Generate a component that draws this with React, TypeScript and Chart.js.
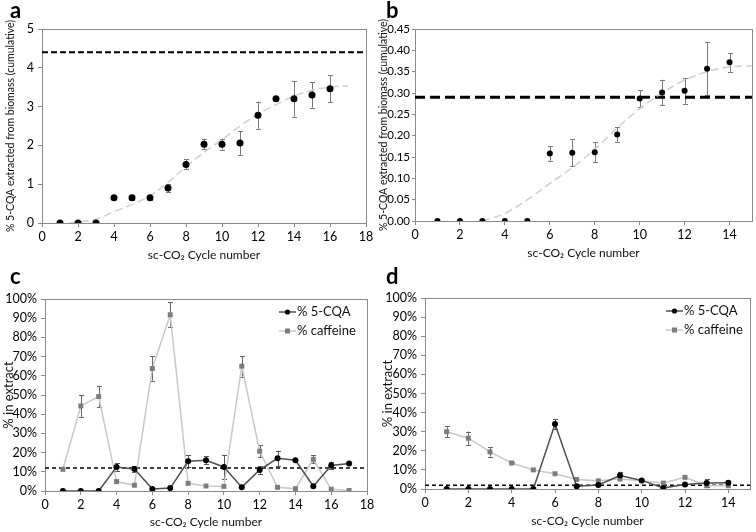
import React, { useEffect, useRef } from 'react';
import { Chart, registerables } from 'chart.js';

Chart.register(...registerables);

const FONT = 'Lato, "Open Sans", "DejaVu Sans", sans-serif';

// ---------------- data ----------------
const panelLabels = ['a', 'b', 'c', 'd'];
const xAxisTitle = 'sc-CO\u2082 Cycle number';
const yTitleCumulative = '% 5-CQA extracted from biomass (cumulative)';
const yTitleExtract = '% in extract';
const seriesNames = ['% 5-CQA', '% caffeine'];

// Panel a
const cyclesA = [1, 2, 3, 4, 5, 6, 7, 8, 9, 10, 11, 12, 13, 14, 15, 16];
const cqaA = [0, 0, 0, 0.65, 0.65, 0.65, 0.9, 1.51, 2.03, 2.03, 2.06, 2.78, 3.2, 3.2, 3.3, 3.46];
const errA = [0, 0, 0, 0, 0.07, 0.05, 0.11, 0.13, 0.13, 0.14, 0.3, 0.35, 0, 0.46, 0.33, 0.35];
const fitAx = [1.5, 2, 3, 4, 5, 6, 7, 8, 9, 10, 11, 12, 13, 14, 15, 16, 17];
const fitAy = [0, 0.02, 0.1, 0.29, 0.48, 0.7, 1.05, 1.45, 1.82, 2.15, 2.5, 2.8, 3.05, 3.27, 3.42, 3.5, 3.54];
const limitA = 4.4;

// Panel b
const cyclesB = [1, 2, 3, 4, 5, 6, 7, 8, 9, 10, 11, 12, 13, 14];
const cqaB = [0, 0, 0, 0, 0, 0.158, 0.16, 0.161, 0.203, 0.287, 0.301, 0.305, 0.357, 0.372];
const errB = [0, 0, 0, 0, 0, 0.017, 0.032, 0.023, 0.017, 0.02, 0.03, 0.03, 0.062, 0.022];
const fitBx = [3, 4, 5, 6, 7, 8, 9, 10, 11, 12, 13, 14, 15];
const fitBy = [0, 0.018, 0.05, 0.088, 0.125, 0.168, 0.218, 0.263, 0.3, 0.33, 0.35, 0.361, 0.364];
const limitB = 0.29;

// Panel c
const cyclesC = [1, 2, 3, 4, 5, 6, 7, 8, 9, 10, 11, 12, 13, 14, 15, 16, 17];
const cqaC = [0, 0, 0, 12.5, 11.5, 1, 1.5, 15.5, 16, 12.5, 2, 11, 17, 16, 2.5, 13.3, 14.3];
const cqaErrC = [0, 0, 0, 2, 1.5, 0, 0, 3, 2, 6.3, 0, 2, 4, 0, 0, 2, 0];
const cafC = [11.3, 44.3, 49.2, 4.9, 3, 63.8, 91.8, 4, 2.6, 2.4, 65, 20.7, 1.9, 1.2, 16.5, 0.9, 0.3];
const cafErrC = [0, 5.7, 5.6, 0, 0, 6.3, 6.6, 0, 0, 0, 5.4, 3.2, 0, 0, 2, 0, 0];
const limitC = 12;

// Panel d
const cyclesD = [1, 2, 3, 4, 5, 6, 7, 8, 9, 10, 11, 12, 13, 14];
const cqaD = [0, 0, 0, 0, 0, 34, 1.4, 2.1, 7.1, 4.5, 0.5, 2.4, 3.1, 3.3];
const cqaErrD = [0, 0, 0, 0, 0, 2.7, 0, 0, 2, 0, 0, 0, 2, 0.8];
const cafD = [30, 26.6, 19.4, 13.6, 10, 8, 5, 4.3, 5.2, 4.3, 3.1, 6.1, 1.7, 1.7];
const cafErrD = [3, 3.5, 2.4, 0.5, 0, 0, 0, 0, 0, 0, 0, 0, 0, 0];
const limitD = 2;

// --------------- helpers ---------------
const pts = (xs: number[], ys: number[]) => xs.map((x, i) => ({ x, y: ys[i] }));

const framePlugin = {
  id: 'plotFrame',
  beforeDatasetsDraw(chart: any) {
    const { ctx, chartArea: a } = chart;
    ctx.save();
    ctx.strokeStyle = '#8a8a8a';
    ctx.lineWidth = 1;
    ctx.strokeRect(Math.round(a.left) + 0.5, Math.round(a.top) + 0.5, Math.round(a.right - a.left), Math.round(a.bottom - a.top));
    ctx.restore();
  },
};

// shifts the panel letter (chart title) right, away from the canvas edge
const titleShiftPlugin = {
  id: 'titleShift',
  afterLayout(chart: any, _args: any, opts: any) {
    const t = chart.titleBlock;
    if (t && opts && opts.dx) {
      t.left += opts.dx;
      t.right += opts.dx;
    }
  },
};

const errorBarPlugin = {
  id: 'errorBars',
  beforeDatasetsDraw(chart: any) {
    const ctx = chart.ctx;
    const ys = chart.scales.y;
    chart.data.datasets.forEach((ds: any, i: number) => {
      const errs = ds.errorBars;
      if (!errs) return;
      const meta = chart.getDatasetMeta(i);
      ctx.save();
      ctx.strokeStyle = ds.errorColor || '#777';
      ctx.lineWidth = 1;
      meta.data.forEach((pt: any, j: number) => {
        const e = errs[j];
        if (!e) return;
        const v = ds.data[j].y;
        const y1 = ys.getPixelForValue(v + e);
        const y2 = ys.getPixelForValue(v - e);
        const x = Math.round(pt.x) + 0.5;
        ctx.beginPath();
        ctx.moveTo(x, y1);
        ctx.lineTo(x, y2);
        ctx.moveTo(x - 2.5, Math.round(y1) + 0.5);
        ctx.lineTo(x + 2.5, Math.round(y1) + 0.5);
        ctx.moveTo(x - 2.5, Math.round(y2) + 0.5);
        ctx.lineTo(x + 2.5, Math.round(y2) + 0.5);
        ctx.stroke();
      });
      ctx.restore();
    });
  },
};

const insetLegendPlugin = {
  id: 'insetLegend',
  afterDraw(chart: any, _args: any, opts: any) {
    if (!opts || !opts.show) return;
    const ctx = chart.ctx;
    ctx.save();
    [0, 1].forEach((i) => {
      const ds: any = chart.data.datasets[i];
      const y = opts.y + i * opts.gap;
      const x0 = opts.x;
      const x1 = opts.x + opts.lineLen;
      ctx.strokeStyle = ds.borderColor;
      ctx.lineWidth = 1.5;
      ctx.beginPath();
      ctx.moveTo(x0, y);
      ctx.lineTo(x1, y);
      ctx.stroke();
      ctx.fillStyle = ds.pointBackgroundColor;
      const cx = (x0 + x1) / 2;
      if (ds.pointStyle === 'rect') {
        ctx.fillRect(cx - 2.5, y - 2.5, 5, 5);
      } else {
        ctx.beginPath();
        ctx.arc(cx, y, 2.6, 0, Math.PI * 2);
        ctx.fill();
      }
      ctx.fillStyle = '#111';
      ctx.font = `13px ${FONT}`;
      ctx.textBaseline = 'middle';
      ctx.textAlign = 'left';
      ctx.fillText(ds.label, x1 + 1, y);
    });
    ctx.restore();
  },
};

type Geo = {
  W: number; H: number; L: number; T: number; R: number; B: number;
  letterX: number; xTitleY: number; yTitleX: number; yTitleSize: number;
  yTickSize: number; yTickPad: number; yTickLen: number;
};

function makeOptions(geo: Geo, letter: string, xMax: number, yMax: number, yStep: number,
  yFmt: (v: number) => string, yTitle: string, legend: any) {
  const xTitleSize = 12;
  const xlh = xTitleSize * 1.2;
  const ylh = geo.yTitleSize * 1.2;
  return {
    responsive: false,
    animation: false,
    layout: { padding: { left: 0, right: geo.W - geo.R, top: 0, bottom: 0 } },
    plugins: {
      legend: { display: false },
      tooltip: { enabled: false },
      title: {
        display: true,
        text: letter,
        align: 'start',
        color: '#000',
        font: { family: FONT, size: 22, weight: 'bold', lineHeight: 1 },
        padding: { top: 0, bottom: geo.T - 22 },
      },
      titleShift: { dx: geo.letterX },
      insetLegend: legend,
    },
    scales: {
      x: {
        type: 'linear',
        min: 0,
        max: xMax,
        afterFit: (s: any) => { s.height = geo.H - geo.B; },
        afterBuildTicks: (s: any) => { s.ticks = s.ticks.filter((t: any) => t.value % 2 === 0); },
        ticks: { stepSize: 2, color: '#000', padding: 2, font: { family: FONT, size: 12.5 } },
        grid: { drawOnChartArea: false, drawTicks: true, tickLength: 4, color: '#8a8a8a' },
        border: { display: false },
        title: {
          display: true,
          text: xAxisTitle,
          color: '#111',
          font: { family: FONT, size: xTitleSize },
          padding: { top: 0, bottom: geo.H - geo.xTitleY - xlh / 2 },
        },
      },
      y: {
        type: 'linear',
        min: 0,
        max: yMax,
        afterFit: (s: any) => { s.width = geo.L; },
        ticks: {
          stepSize: yStep, color: '#000', padding: geo.yTickPad,
          font: { family: FONT, size: geo.yTickSize },
          callback: (v: any) => yFmt(Number(v)),
        },
        grid: { drawOnChartArea: false, drawTicks: true, tickLength: geo.yTickLen, color: '#8a8a8a' },
        border: { display: false },
        title: {
          display: true,
          text: yTitle,
          color: '#111',
          font: { family: FONT, size: geo.yTitleSize },
          padding: { top: geo.yTitleX - ylh / 2, bottom: 0 },
        },
      },
    },
  };
}

function cumulativeConfig(geo: Geo, letter: string, xMax: number, yMax: number, yStep: number,
  yFmt: (v: number) => string, cyc: number[], vals: number[], errs: number[], fx: number[], fy: number[],
  limit: number, dotR: number, limW: number, limDash: number[]) {
  return {
    type: 'scatter',
    data: {
      datasets: [
        {
          label: seriesNames[0],
          data: pts(cyc, vals),
          showLine: false,
          pointRadius: dotR,
          pointBackgroundColor: '#000',
          pointBorderWidth: 0,
          errorBars: errs,
          errorColor: '#7a7a7a',
        },
        {
          label: 'fit',
          data: pts(fx, fy),
          showLine: true,
          tension: 0.4,
          pointRadius: 0,
          borderColor: '#cfcfcf',
          borderWidth: 1.5,
          borderDash: [8, 4],
        },
        {
          label: 'limit',
          data: pts([0, xMax], [limit, limit]),
          showLine: true,
          pointRadius: 0,
          borderColor: '#000',
          borderWidth: limW,
          borderDash: limDash,
        },
      ],
    },
    options: makeOptions(geo, letter, xMax, yMax, yStep, yFmt, yTitleCumulative, { show: false }),
    plugins: [framePlugin, errorBarPlugin, insetLegendPlugin, titleShiftPlugin],
  };
}

function extractConfig(geo: Geo, letter: string, xMax: number, cyc: number[], cqa: number[], cqaErr: number[],
  caf: number[], cafErr: number[], limit: number, legend: any) {
  return {
    type: 'scatter',
    data: {
      datasets: [
        {
          label: seriesNames[0],
          data: pts(cyc, cqa),
          showLine: true,
          borderColor: '#505050',
          borderWidth: 1.5,
          pointRadius: 3,
          pointBackgroundColor: '#000',
          pointBorderWidth: 0,
          errorBars: cqaErr,
          errorColor: '#555',
        },
        {
          label: seriesNames[1],
          data: pts(cyc, caf),
          showLine: true,
          borderColor: '#c8c8c8',
          borderWidth: 1.5,
          pointStyle: 'rect',
          pointRadius: 3.5,
          pointBackgroundColor: '#7c7c7c',
          pointBorderWidth: 0,
          errorBars: cafErr,
          errorColor: '#666',
        },
        {
          label: 'limit',
          data: pts([0, xMax], [limit, limit]),
          showLine: true,
          pointRadius: 0,
          borderColor: '#000',
          borderWidth: 1.5,
          borderDash: [4, 3],
        },
      ],
    },
    options: makeOptions(geo, letter, xMax, 100, 10, (v) => `${v}%`, yTitleExtract, legend),
    plugins: [framePlugin, errorBarPlugin, insetLegendPlugin, titleShiftPlugin],
  };
}

const geoA: Geo = { W: 378, H: 266, L: 42, T: 29, R: 366, B: 223, letterX: 10, xTitleY: 255, yTitleX: 11, yTitleSize: 10.5, yTickSize: 12.5, yTickPad: 4, yTickLen: 4 };
const geoB: Geo = { W: 378, H: 266, L: 37, T: 29, R: 376, B: 221, letterX: 8, xTitleY: 253, yTitleX: 6, yTitleSize: 10.5, yTickSize: 11.5, yTickPad: 2, yTickLen: 3 };
const geoC: Geo = { W: 378, H: 266, L: 45, T: 33, R: 367, B: 225, letterX: 10, xTitleY: 256, yTitleX: 9, yTitleSize: 13, yTickSize: 12.5, yTickPad: 4, yTickLen: 4 };
const geoD: Geo = { W: 378, H: 266, L: 47, T: 32, R: 372, B: 223, letterX: 8, xTitleY: 255, yTitleX: 10, yTitleSize: 13, yTickSize: 12.5, yTickPad: 4, yTickLen: 4 };

const configs = [
  cumulativeConfig(geoA, panelLabels[0], 18, 5, 1, (v) => String(v), cyclesA, cqaA, errA, fitAx, fitAy, limitA, 3.5, 2, [6, 3]),
  cumulativeConfig(geoB, panelLabels[1], 15, 0.45, 0.05, (v) => v.toFixed(2), cyclesB, cqaB, errB, fitBx, fitBy, limitB, 3, 3, [10, 5]),
  extractConfig(geoC, panelLabels[2], 18, cyclesC, cqaC, cqaErrC, cafC, cafErrC, limitC, { show: true, x: 279, y: 46, gap: 19, lineLen: 17 }),
  extractConfig(geoD, panelLabels[3], 15, cyclesD, cqaD, cqaErrD, cafD, cafErrD, limitD, { show: true, x: 288, y: 45, gap: 19, lineLen: 17 }),
];

const positions = [
  { left: 0, top: 0 },
  { left: 378, top: 0 },
  { left: 0, top: 266 },
  { left: 378, top: 266 },
];

function Panel({ idx }: { idx: number }) {
  const ref = useRef<HTMLCanvasElement | null>(null);
  useEffect(() => {
    if (!ref.current) return;
    const chart = new Chart(ref.current, configs[idx] as any);
    return () => chart.destroy();
  }, [idx]);
  return (
    <div style={{ position: 'absolute', left: positions[idx].left, top: positions[idx].top, width: 378, height: 266 }}>
      <canvas ref={ref} width={378} height={266} style={{ display: 'block', width: 378, height: 266 }} />
    </div>
  );
}

export default function App() {
  return (
    <div style={{ position: 'absolute', left: 0, top: 0, width: 756, height: 532, background: '#fff' }}>
      {[0, 1, 2, 3].map((i) => (
        <Panel key={i} idx={i} />
      ))}
    </div>
  );
}
